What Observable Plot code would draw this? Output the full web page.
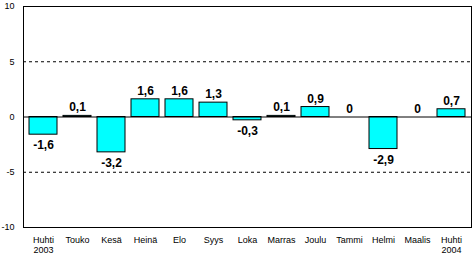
<!DOCTYPE html>
<html>
<head>
<meta charset="utf-8">
<script src="https://cdn.jsdelivr.net/npm/d3@7"></script>
<script src="https://cdn.jsdelivr.net/npm/@observablehq/plot@0.6"></script>
<style>
  html, body { margin: 0; padding: 0; background: #fff; }
</style>
</head>
<body>
<div id="chart"></div>
<script>
const months = ["Huhti\n2003", "Touko", "Kesä", "Heinä", "Elo", "Syys", "Loka", "Marras", "Joulu", "Tammi", "Helmi", "Maalis", "Huhti\n2004"];
const values = [-1.6, 0.1, -3.2, 1.6, 1.6, 1.3, -0.3, 0.1, 0.9, 0, -2.9, 0, 0.7];
const yTicks = [-10, -5, 0, 5, 10];
const gridValues = [-5, 5];

const data = months.map((m, i) => ({month: m, value: values[i]}));
const fmt = v => v.toFixed(v === 0 ? 0 : 1).replace(".", ",");
const pos = data.filter(d => d.value >= 0);
const neg = data.filter(d => d.value < 0);

const chart = Plot.plot({
  width: 473,
  height: 255,
  marginTop: 6,
  marginBottom: 28,
  marginLeft: 23,
  marginRight: 2,
  style: {fontFamily: "Arial, 'Liberation Sans', sans-serif", background: "#fff", color: "#000"},
  x: {domain: months, paddingInner: 0.19, paddingOuter: 0.09, label: null},
  y: {domain: [-10, 10], label: null},
  marks: [
    Plot.ruleY(gridValues, {stroke: "black", strokeDasharray: "3,3", strokeWidth: 1}),
    Plot.barY(data, {x: "month", y: "value", fill: "#00FFFF", stroke: "black", strokeWidth: 1}),
    Plot.ruleY([0], {stroke: "black", strokeWidth: 1}),
    Plot.frame({stroke: "black", strokeWidth: 1}),
    Plot.text(pos, {x: "month", y: "value", text: d => fmt(d.value), lineAnchor: "bottom", dy: -4.5, fontSize: 12, fontWeight: "bold", fill: "black"}),
    Plot.text(neg, {x: "month", y: "value", text: d => fmt(d.value), lineAnchor: "top", dy: 6, fontSize: 12, fontWeight: "bold", fill: "black"}),
    Plot.axisY({ticks: yTicks, tickSize: 0, tickPadding: 9, fontSize: 9, tickFormat: d => String(d)}),
    Plot.axisX({tickSize: 0, tickPadding: 8, fontSize: 9, lineHeight: 1.15, label: null})
  ]
});
document.getElementById("chart").appendChild(chart);
</script>
</body>
</html>
